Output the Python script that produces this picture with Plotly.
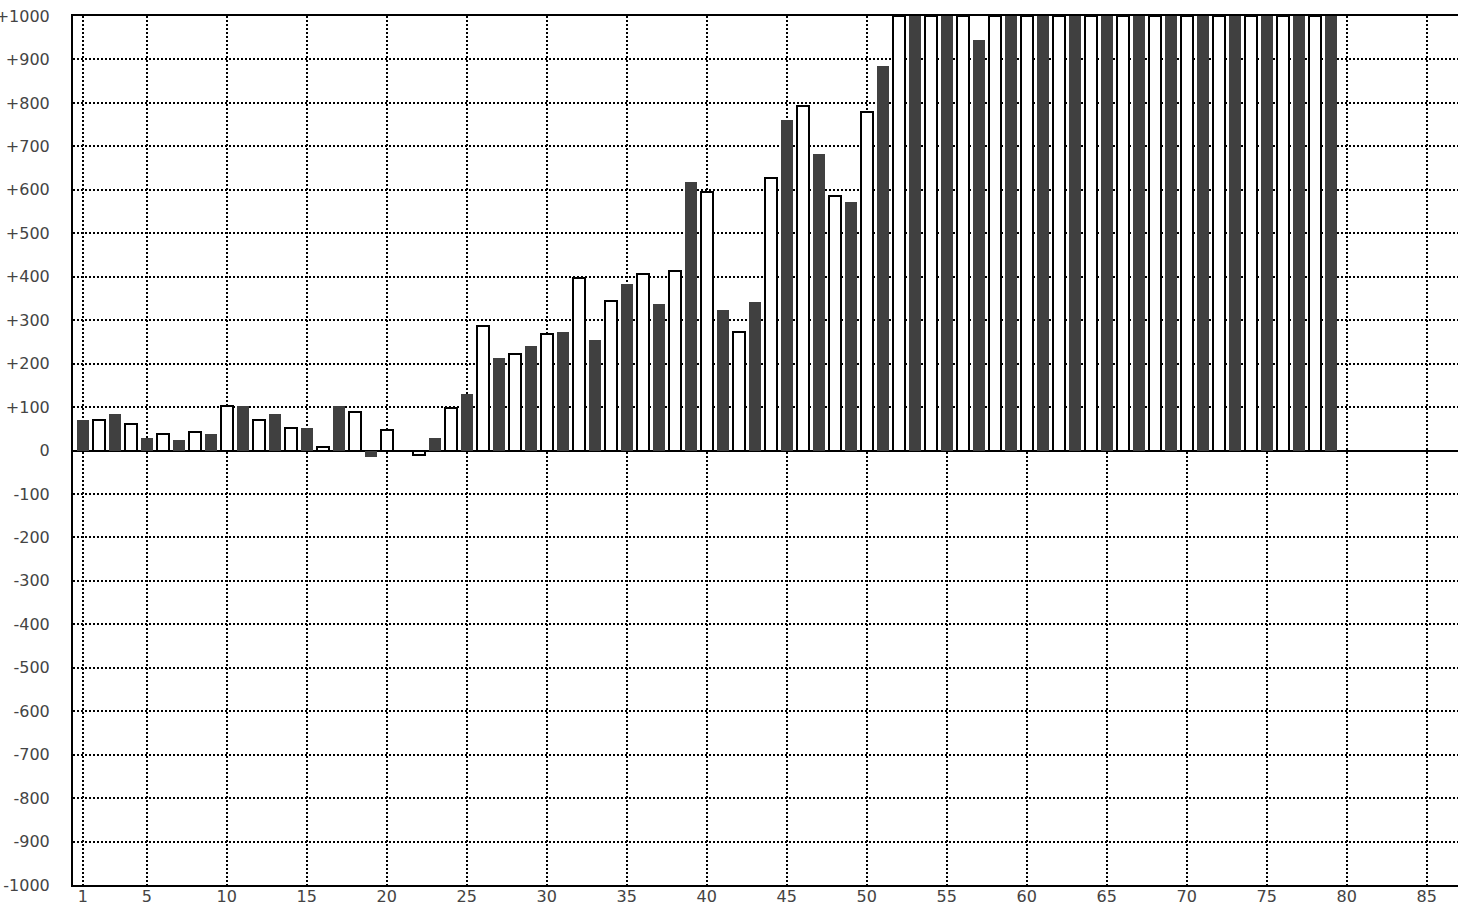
import plotly.graph_objects as go

# Data (bar index -> value)
bar_index = list(range(1, 80))
values = [
    71, 70, 85, 61, 29, 38, 25, 42, 38, 102,
    103, 70, 85, 51, 52, 9, 103, 88, -16, 47,
    0, -11, 29, 97, 131, 286, 213, 221, 241, 267,
    273, 396, 255, 345, 384, 406, 338, 414, 618, 595,
    324, 272, 342, 627, 761, 793, 683, 585, 572, 779,
    885, 1000, 1000, 1000, 1000, 1000, 945, 1000, 1000, 1000,
    1000, 1000, 1000, 1000, 1000, 1000, 1000, 1000, 1000, 1000,
    1000, 1000, 1000, 1000, 1000, 1000, 1000, 1000, 1000,
]
x_tick_vals = [1, 5, 10, 15, 20, 25, 30, 35, 40, 45, 50, 55, 60, 65, 70, 75, 80, 85]
y_tick_vals = list(range(-1000, 1001, 100))
y_tick_text = [("+" + str(v)) if v > 0 else str(v) for v in y_tick_vals]

dark_x = [i for i in bar_index if i % 2 == 1]
dark_y = [v for i, v in zip(bar_index, values) if i % 2 == 1]
light_x = [i for i in bar_index if i % 2 == 0]
light_y = [v for i, v in zip(bar_index, values) if i % 2 == 0]

fig = go.Figure()
fig.add_trace(go.Bar(
    x=dark_x, y=dark_y, width=0.75,
    marker=dict(color="#404040", line=dict(width=0)),
    showlegend=False,
))
fig.add_trace(go.Bar(
    x=light_x, y=light_y, width=0.75,
    marker=dict(color="#ffffff", line=dict(color="#000000", width=2)),
    showlegend=False,
))

font_family = "DejaVu Sans"
fig.update_layout(
    width=1458, height=908,
    margin=dict(l=73, r=0, t=16, b=23, autoexpand=False),
    paper_bgcolor="white", plot_bgcolor="white",
    barmode="overlay",
    bargap=0,
    font=dict(family=font_family, size=16, color="#333333"),
)
fig.update_xaxes(
    range=[0.39, 86.96],
    tickvals=x_tick_vals,
    ticktext=[str(v) for v in x_tick_vals],
    showgrid=True, gridcolor="#000000", gridwidth=2, griddash="2px,2px",
    showline=True, linecolor="#000000", linewidth=2, mirror=True,
    ticks="", zeroline=False, automargin=False, ticklabelstandoff=-4,
    tickfont=dict(family=font_family, size=16, color="#444444"),
)
fig.update_yaxes(
    range=[-1000, 1000],
    tickvals=y_tick_vals,
    ticktext=y_tick_text,
    showgrid=True, gridcolor="#000000", gridwidth=2, griddash="2px,2px",
    showline=True, linecolor="#000000", linewidth=2, mirror=True,
    zeroline=True, zerolinecolor="#000000", zerolinewidth=2,
    ticks="", ticklabelstandoff=18, automargin=False,
    tickfont=dict(family=font_family, size=16, color="#444444"),
)

fig.write_html(
    "out.html",
    config={"displayModeBar": False},
    post_script=(
        "document.body.style.margin='0';"
        "document.body.style.overflow='hidden';"
        "document.documentElement.style.overflow='hidden';"
    ),
)
